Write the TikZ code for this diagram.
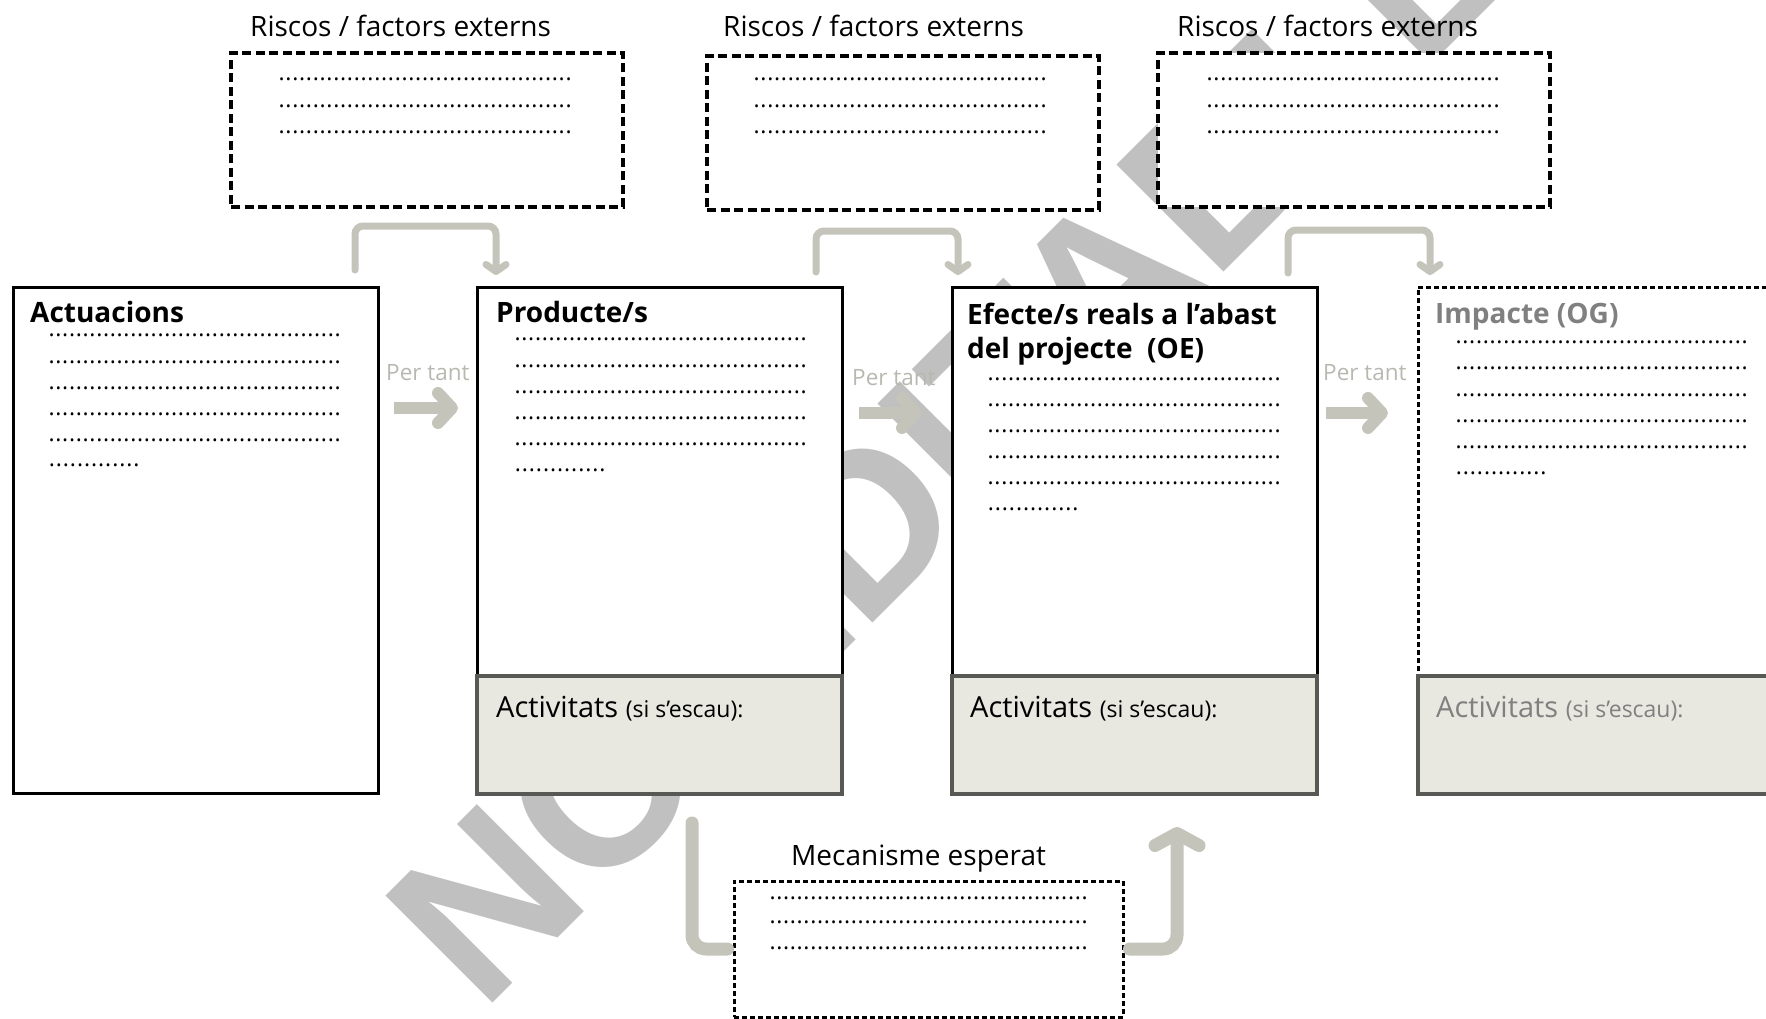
\documentclass[tikz,border=0pt]{standalone}
\usepackage{fontspec}
\setmainfont{Open Sans}
\newfontfamily\wmfont{Liberation Sans}
\usetikzlibrary{arrows.meta}

\definecolor{linkgrey}{RGB}{196,196,187}
\definecolor{wmgrey}{RGB}{192,192,192}
\definecolor{actfill}{RGB}{232,232,225}
\definecolor{actline}{RGB}{88,88,84}
\definecolor{tantgrey}{RGB}{184,184,176}
\definecolor{ogtext}{RGB}{128,128,128}

\newcommand{\dotline}[1]{\makebox[#1]{\xleaders\hbox to 6.7pt{\hss.\hss}\hfill}}

\begin{document}
\begin{tikzpicture}[x=1pt,y=-1pt,
    mainbox/.style={draw=black,line width=3pt,fill=white,anchor=north west,inner sep=0pt,outer sep=0pt,minimum width=365pt},
    actbox/.style={draw=actline,line width=3.5pt,fill=actfill,anchor=north west,inner sep=0pt,outer sep=0pt,minimum width=365pt,minimum height=118pt},
    riskbox/.style={draw=black,line width=4pt,dash pattern=on 9pt off 4.5pt,fill=white,anchor=north west,inner sep=0pt,outer sep=0pt,minimum width=392pt,minimum height=154pt},
    thinbox/.style={draw=black,line width=3pt,dash pattern=on 5pt off 3pt,fill=white,anchor=north west,inner sep=0pt,outer sep=0pt},
    txt/.style={anchor=base west,inner sep=0pt,font=\fontsize{28}{34}\selectfont},
    head/.style={txt,font=\fontsize{28}{34}\selectfont\bfseries},
    acttxt/.style={txt,font=\fontsize{29}{34}\selectfont},
    rowtxt/.style={anchor=base west,inner sep=0pt,font=\fontsize{23}{23}\selectfont},
    tant/.style={anchor=base west,inner sep=0pt,text=tantgrey,font=\fontsize{22.5}{22.5}\selectfont},
    tantarrow/.style={draw=linkgrey,line width=12pt,-{Straight Barb[length=14pt,width=30pt,round]}},
    riskarrow/.style={draw=linkgrey,line width=7pt,line cap=round,rounded corners=8pt,-{Straight Barb[length=7pt,width=20pt,round]}},
    mecline/.style={draw=linkgrey,line width=13pt,line cap=round,rounded corners=14pt},
    wm/.style={anchor=base west,inner sep=0pt,rotate=45,text=wmgrey,font=\wmfont\bfseries\fontsize{220}{220}\selectfont}]

\useasboundingbox (0,0) rectangle (1766,1019);

\node[wm] (wmark) at (482,1014) {NO EDITABLE};

\node[txt] (risk1t) at (250,37) {Riscos / factors externs};
\node[txt] (risk2t) at (723,37) {Riscos / factors externs};
\node[txt] (risk3t) at (1177,37) {Riscos / factors externs};
\node[riskbox] (risk1) at (231,53) {};
\node[riskbox] (risk2) at (707,56) {};
\node[riskbox] (risk3) at (1158,53) {};
\foreach \x/\n in {278/1,753/2,1206/3}
  \foreach \y in {81,108,134}
    \node[rowtxt] (risk\n-\y) at (\x,\y) {\dotline{294pt}};

\node[mainbox,minimum height=506pt] (act) at (13,287) {};
\node[mainbox,minimum height=389pt] (prod) at (477,287) {};
\node[actbox] (prodact) at (prod.south west) {};
\node[mainbox,minimum height=389pt] (eff) at (952,287) {};
\node[actbox] (effact) at (eff.south west) {};
\node[thinbox,minimum width=400pt,minimum height=389pt] (imp) at (1418,287) {};
\node[actbox,minimum width=400pt] (impact) at (imp.south west) {};

\node[head] (actt) at (30,322) {Actuacions};
\node[head] (prodt) at (496,322) {Producte/s};
\node[head] (efft) at (967,324) {Efecte/s reals a l’abast};
\node[head] (efft2) at (967,358) {del projecte\ \ (OE)};
\node[head,text=ogtext] (impt) at (1435,323) {Impacte (OG)};

\foreach \y in {336,363,389,415,441}
  \node[rowtxt] (act-\y) at (48,\y) {\dotline{293pt}};
\node[rowtxt] (act-end) at (48,466) {\dotline{92pt}};
\foreach \y in {340,367,393,419,445}
  \node[rowtxt] (prod-\y) at (514,\y) {\dotline{293pt}};
\node[rowtxt] (prod-end) at (514,471) {\dotline{92pt}};
\foreach \y in {380,406,432,458,484}
  \node[rowtxt] (eff-\y) at (987,\y) {\dotline{294pt}};
\node[rowtxt] (eff-end) at (987,510) {\dotline{92pt}};
\foreach \y in {343,369,396,422,448}
  \node[rowtxt] (imp-\y) at (1455,\y) {\dotline{293pt}};
\node[rowtxt] (imp-end) at (1455,474) {\dotline{92pt}};

\node[acttxt] (prodactt) at (496,717) {Activitats {\fontsize{23}{23}\selectfont(si s’escau):}};
\node[acttxt] (effactt) at (970,717) {Activitats {\fontsize{23}{23}\selectfont(si s’escau):}};
\node[acttxt,text=ogtext] (impactt) at (1436,717) {Activitats {\fontsize{23}{23}\selectfont(si s’escau):}};

\node[tant] (tant1) at (386,380) {Per tant};
\node[tant] (tant2) at (852,385) {Per tant};
\node[tant] (tant3) at (1323,380) {Per tant};
\coordinate (t1s) at (394,408);
\coordinate (t1e) at (458,408);
\coordinate (t2s) at (859,413);
\coordinate (t2e) at (922,413);
\coordinate (t3s) at (1326,413);
\coordinate (t3e) at (1388,413);
\draw[tantarrow] (t1s) -- (t1e);
\draw[tantarrow] (t2s) -- (t2e);
\draw[tantarrow] (t3s) -- (t3e);

\draw[riskarrow] ([shift={(-23,-17)}]act.north east) -- ++(0,-44) -| ([shift={(19,-12)}]prod.north west);
\draw[riskarrow] ([shift={(-26,-15)}]prod.north east) -- ++(0,-41) -| ([shift={(6,-12)}]eff.north west);
\draw[riskarrow] ([shift={(-29,-14)}]eff.north east) -- ++(0,-43) -| ([shift={(12,-12)}]imp.north west);

\node[txt] (mect) at (791,865) {Mecanisme esperat};
\node[thinbox,minimum width=389pt,minimum height=136pt] (mec) at (734,881) {};
\foreach \y in {899,923,949}
  \node[rowtxt] (mec-\y) at (769,\y) {\dotline{319pt}};
\draw[mecline,shorten >=6.5pt] ([shift={(215,29)}]prodact.south west) |- (mec.west);
\draw[mecline,shorten <=6.5pt,-{Straight Barb[length=12pt,width=44pt,round]}] (mec.east) -| ([shift={(225,33)}]effact.south west);
\end{tikzpicture}
\end{document}
